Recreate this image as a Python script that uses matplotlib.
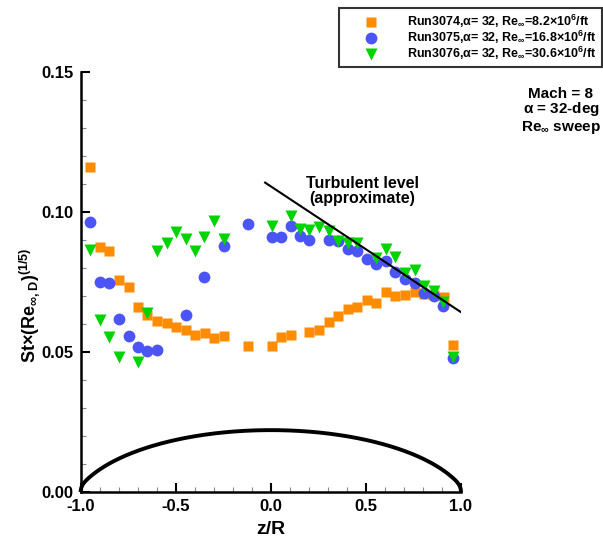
import numpy as np
import matplotlib
matplotlib.use("Agg")
import matplotlib.pyplot as plt
from matplotlib.lines import Line2D

plt.rcParams['font.family'] = ['Liberation Sans', 'DejaVu Sans']
plt.rcParams['font.weight'] = 'bold'
plt.rcParams['mathtext.fontset'] = 'custom'
plt.rcParams['mathtext.rm'] = 'Liberation Sans:bold'
plt.rcParams['mathtext.it'] = 'Liberation Sans:bold'
plt.rcParams['mathtext.bf'] = 'Liberation Sans:bold'
plt.rcParams['mathtext.default'] = 'rm'

# Run3074, Re = 8.2e6/ft
z_3074 = [-0.949, -0.898, -0.849, -0.798, -0.747, -0.698, -0.649, -0.598, -0.547, -0.498,
          -0.447, -0.397, -0.346, -0.298, -0.247, -0.121, 0.005, 0.054, 0.105, 0.203,
          0.254, 0.305, 0.354, 0.405, 0.454, 0.505, 0.554, 0.605, 0.654, 0.705,
          0.756, 0.805, 0.856, 0.912, 0.958]
st_3074 = [0.1162, 0.0876, 0.0860, 0.0757, 0.0731, 0.0661, 0.0633, 0.0610, 0.0602, 0.0588,
           0.0577, 0.0560, 0.0569, 0.0549, 0.0558, 0.0523, 0.0521, 0.0555, 0.0560, 0.0570,
           0.0579, 0.0606, 0.0630, 0.0654, 0.0661, 0.0686, 0.0676, 0.0713, 0.0701, 0.0705,
           0.0714, 0.0708, 0.0702, 0.0695, 0.0525]

# Run3075, Re = 16.8e6/ft
z_3075 = [-0.949, -0.898, -0.849, -0.798, -0.747, -0.698, -0.649, -0.598, -0.447, -0.349,
          -0.247, -0.121, 0.005, 0.054, 0.105, 0.154, 0.203, 0.305, 0.354, 0.405,
          0.454, 0.505, 0.554, 0.605, 0.654, 0.705, 0.756, 0.805, 0.856, 0.907, 0.958]
st_3075 = [0.0964, 0.0751, 0.0745, 0.0618, 0.0558, 0.0519, 0.0504, 0.0507, 0.0633, 0.0768,
           0.0880, 0.0956, 0.0911, 0.0911, 0.0951, 0.0913, 0.0900, 0.0900, 0.0895, 0.0867,
           0.0862, 0.0832, 0.0813, 0.0824, 0.0785, 0.0760, 0.0745, 0.0712, 0.0701, 0.0663,
           0.0478]

# Run3076, Re = 30.6e6/ft
z_3076 = [-0.949, -0.898, -0.849, -0.798, -0.698, -0.649, -0.598, -0.547, -0.498, -0.447,
          -0.397, -0.349, -0.298, -0.247, 0.005, 0.105, 0.154, 0.203, 0.254, 0.305,
          0.354, 0.405, 0.454, 0.554, 0.605, 0.654, 0.705, 0.756, 0.805, 0.856,
          0.907, 0.958]
st_3076 = [0.0864, 0.0614, 0.0555, 0.0483, 0.0465, 0.0640, 0.0861, 0.0890, 0.0929, 0.0905,
           0.0861, 0.0911, 0.0969, 0.0904, 0.0950, 0.0987, 0.0938, 0.0937, 0.0948, 0.0932,
           0.0896, 0.0890, 0.0890, 0.0835, 0.0868, 0.0839, 0.0783, 0.0792, 0.0736, 0.0718,
           0.0680, 0.0483]

# approximate turbulent level line
turb_z = [-0.03, 1.005]
turb_st = [0.1105, 0.0640]

legend_labels = [
    r'Run3074,$\alpha$= 32, Re$_{\infty}$=8.2$\times$10$^{6}$/ft',
    r'Run3075,$\alpha$= 32, Re$_{\infty}$=16.8$\times$10$^{6}$/ft',
    r'Run3076,$\alpha$= 32, Re$_{\infty}$=30.6$\times$10$^{6}$/ft',
]

x_ticks = [-1.0, -0.5, 0.0, 0.5, 1.0]
y_ticks = [0.00, 0.05, 0.10, 0.15]

# heat-shield outline parameters (schematic)
cap_top = 0.0221
cap_radius = 1.05
cap_scale = 0.0276
shoulder_z = 0.94

c_orange = '#FF8C00'
c_blue = '#4B55F7'
c_green = '#00D400'

fig = plt.figure(figsize=(6.03, 5.39), dpi=100)
ax = fig.add_axes([0.1338, 0.0872, 0.6307, 0.7792])

# body outline: spherical cap plus rounded shoulder
zc = np.linspace(-shoulder_z, shoulder_z, 300)
yc = cap_top - cap_scale * (cap_radius - np.sqrt(cap_radius**2 - zc**2))
y_s = yc[-1]
slope = -cap_scale * shoulder_z / np.sqrt(cap_radius**2 - shoulder_z**2)
t = np.linspace(0, 1, 60)
p0 = np.array([shoulder_z, y_s])
p1 = p0 + 0.035 * np.array([1.0, slope])
p2 = np.array([1.0, 0.0025])
p3 = np.array([1.0, 0.0])
bez = ((1 - t)[:, None]**3 * p0 + 3 * ((1 - t)**2 * t)[:, None] * p1
       + 3 * ((1 - t) * t**2)[:, None] * p2 + (t**3)[:, None] * p3)
body_z = np.concatenate([-bez[::-1, 0], zc, bez[:, 0]])
body_y = np.concatenate([bez[::-1, 1], yc, bez[:, 1]])
ax.plot(body_z, body_y, color='black', lw=2.8, solid_capstyle='butt', clip_on=False, zorder=2)

ax.plot(turb_z, turb_st, color='black', lw=1.5, zorder=5)

ax.plot(z_3074, st_3074, ls='none', marker='s', ms=7, color=c_orange, mec='none', zorder=3)
ax.plot(z_3075, st_3075, ls='none', marker='o', ms=8.5, color=c_blue, mec='none', zorder=3)
ax.plot(z_3076, st_3076, ls='none', marker='v', ms=8.5, color=c_green, mec='none', zorder=4)

ax.text(0.48, 0.1075, 'Turbulent level\n(approximate)', ha='center', va='center',
        fontsize=11.5, fontweight='bold', linespacing=1.0)

fig.text(561 / 603, 1 - 111 / 539, 'Mach = 8\n' + r'$\alpha$ = 32-deg' + '\nRe$_{\infty}$ sweep',
         ha='center', va='center', fontsize=11, fontweight='bold', linespacing=1.0)

ax.set_xlim(-1.0, 1.0)
ax.set_ylim(0.0, 0.15)
ax.set_xticks(x_ticks)
ax.set_xticklabels([f'{v:.1f}' for v in x_ticks])
ax.set_yticks(y_ticks)
ax.set_yticklabels([f'{v:.2f}' for v in y_ticks])
ax.set_xticks(np.arange(-1.0, 1.001, 0.1), minor=True)
ax.set_yticks(np.arange(0.0, 0.1501, 0.01), minor=True)
ax.tick_params(which='major', direction='in', length=6.5, width=1.5, labelsize=12, pad=5)
ax.tick_params(which='minor', direction='in', length=3.5, width=0.8, color='#888888')
for lab in ax.get_xticklabels() + ax.get_yticklabels():
    lab.set_fontweight('bold')
for side in ('top', 'right'):
    ax.spines[side].set_visible(False)
for side in ('left', 'bottom'):
    ax.spines[side].set_linewidth(1.8)

ax.set_xlabel('z/R', fontsize=14, fontweight='bold', labelpad=5)
fig.text(29 / 603, 1 - 305 / 539, r'St$\times$(Re$_{\infty,D}$)$^{(1/5)}$', rotation=90,
         ha='center', va='center', fontsize=13, fontweight='bold')

handles = [
    Line2D([], [], ls='none', marker='s', ms=7, color=c_orange, mec='none'),
    Line2D([], [], ls='none', marker='o', ms=8.5, color=c_blue, mec='none'),
    Line2D([], [], ls='none', marker='v', ms=8.5, color=c_green, mec='none'),
]
leg = fig.legend(handles, legend_labels, loc='upper right',
                 bbox_to_anchor=(601.5 / 603, 1 - 8 / 539), fontsize=9.0,
                 frameon=True, fancybox=False, edgecolor='black', borderaxespad=0,
                 handlelength=4.3, handletextpad=0.75, borderpad=0.4, labelspacing=-0.08)
leg.get_frame().set_linewidth(1.5)
for txt in leg.get_texts():
    txt.set_fontweight('bold')

fig.savefig('out.png', dpi=100)
